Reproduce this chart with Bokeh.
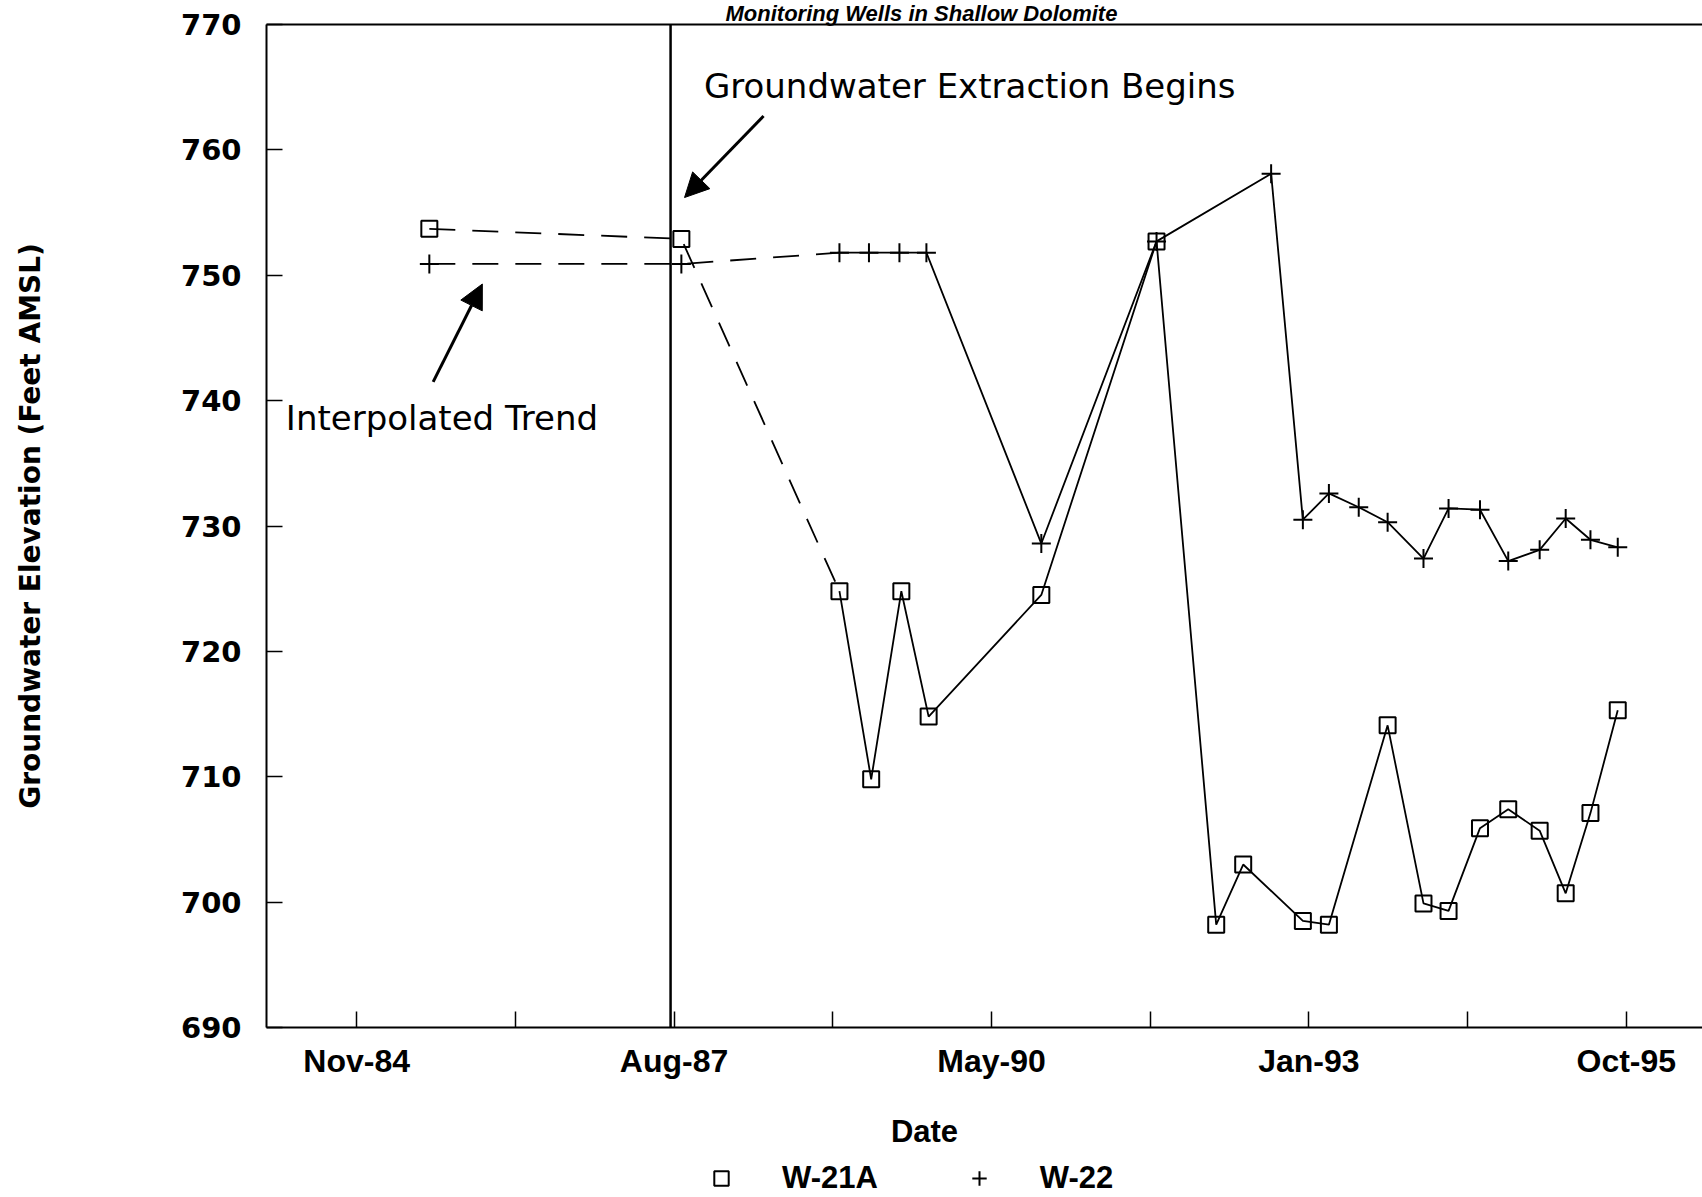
import pandas as pd
from bokeh.plotting import figure
from bokeh.layouts import column
from bokeh.models import (ColumnDataSource, Range1d, FixedTicker, Span, Label, Arrow,
                          NormalHead, Legend, LegendItem, LinearAxis, Title)
from bokeh.embed import file_html
from bokeh.resources import INLINE

# Well W-21A: sampling dates and groundwater elevations (feet AMSL)
w21a_dates = ["1985-06-27", "1987-08-30", "1989-01-09", "1989-04-19", "1989-07-23",
              "1989-10-17", "1990-10-07", "1991-10-05", "1992-04-10", "1992-07-04",
              "1993-01-08", "1993-03-31", "1993-10-02", "1994-01-23", "1994-04-12",
              "1994-07-20", "1994-10-17", "1995-01-24", "1995-04-16", "1995-07-03",
              "1995-09-27"]
w21a_elev = [753.7, 752.9, 724.8, 709.8, 724.8, 714.8, 724.5, 752.7, 698.2, 703.0,
             698.5, 698.2, 714.1, 699.9, 699.3, 705.9, 707.4, 705.7, 700.7, 707.1,
             715.3]

# Well W-22: sampling dates and groundwater elevations (feet AMSL)
w22_dates = ["1985-06-27", "1987-08-30", "1989-01-09", "1989-04-12", "1989-07-17",
             "1989-10-10", "1990-10-07", "1991-10-05", "1992-09-30", "1993-01-08",
             "1993-03-31", "1993-07-03", "1993-10-02", "1994-01-23", "1994-04-12",
             "1994-07-20", "1994-10-17", "1995-01-24", "1995-04-16", "1995-07-03",
             "1995-09-27"]
w22_elev = [750.9, 750.9, 751.8, 751.8, 751.8, 751.8, 728.6, 752.7, 758.1, 730.5,
            732.6, 731.5, 730.3, 727.4, 731.4, 731.3, 727.2, 728.1, 730.6, 728.9,
            728.3]

well_names = ["W-21A", "W-22"]

# the first readings of each well are only joined by an interpolated trend
n_interp = 3

extraction_start = "1987-07-27"

# date axis: ticks every 500 days, every second one labelled
tick_origin = pd.Timestamp("1984-11-10")
tick_step_days = 500
tick_labels = ["Nov-84", "Aug-87", "May-90", "Jan-93", "Oct-95"]
y_ticks = [690, 700, 710, 720, 730, 740, 750, 760, 770]


def ms(ts):
    return int(pd.Timestamp(ts).value // 10**6)


def day_offset(days):
    return ms(tick_origin + pd.Timedelta(days=days))


major_ticks = [day_offset(2 * k * tick_step_days) for k in range(len(tick_labels))]
minor_ticks = [day_offset((2 * k + 1) * tick_step_days) for k in range(len(tick_labels) - 1)]

W, H_MAIN, H_KEY = 1702, 1090, 107

p = figure(width=W, height=H_MAIN, x_axis_type="datetime",
           x_range=Range1d(day_offset(-284), day_offset(4240)),
           y_range=Range1d(690, 770),
           output_backend="svg", toolbar_location=None,
           min_border_left=266, min_border_right=0,
           min_border_top=24, min_border_bottom=63)
p.grid.visible = False
p.outline_line_color = None
p.background_fill_color = "white"
p.border_fill_color = "white"

# x axis
xa = p.xaxis[0]
xa.ticker = FixedTicker(ticks=major_ticks, minor_ticks=minor_ticks)
xa.major_label_overrides = {t: lab for t, lab in zip(major_ticks, tick_labels)}
xa.axis_line_width = 2
xa.major_tick_in = 16
xa.major_tick_out = 0
xa.minor_tick_in = 16
xa.minor_tick_out = 0
xa.major_tick_line_width = 1.5
xa.minor_tick_line_width = 1.5
xa.major_label_standoff = 15
xa.major_label_text_font = "Liberation Sans"
xa.major_label_text_font_style = "bold"
xa.major_label_text_font_size = "32px"
xa.major_label_text_color = "black"

# y axis
ya = p.yaxis[0]
ya.ticker = FixedTicker(ticks=y_ticks)
ya.axis_line_width = 2
ya.major_tick_in = 16
ya.major_tick_out = 0
ya.minor_tick_in = 0
ya.minor_tick_out = 0
ya.major_tick_line_width = 1.5
ya.major_label_standoff = 25
ya.major_label_text_font = "DejaVu Sans"
ya.major_label_text_font_style = "bold"
ya.major_label_text_font_size = "29px"
ya.major_label_text_color = "black"
ya.axis_label = "Groundwater Elevation (Feet AMSL)"
ya.axis_label_text_font = "DejaVu Sans"
ya.axis_label_text_font_style = "bold"
ya.axis_label_text_font_size = "28px"
ya.axis_label_text_color = "black"
ya.axis_label_standoff = 131

# plain rule along the top of the plot area
top = LinearAxis(ticker=FixedTicker(ticks=[]), axis_line_width=2,
                 major_tick_in=0, major_tick_out=0, minor_tick_in=0, minor_tick_out=0,
                 major_label_standoff=0, major_label_text_font_size="0px")
p.add_layout(top, "above")

# chart title, squeezed into the strip above the plot area
p.add_layout(Title(text="Monitoring Wells in Shallow Dolomite", align="left", offset=459,
                   standoff=-3, vertical_align="bottom",
                   text_font="Liberation Sans", text_font_style="bold italic",
                   text_font_size="22px", text_color="black"), "above")

# data sources
d21 = pd.to_datetime(w21a_dates)
d22 = pd.to_datetime(w22_dates)
s21_trend = ColumnDataSource(dict(date=d21[:n_interp], elev=w21a_elev[:n_interp]))
s21_obs = ColumnDataSource(dict(date=d21[n_interp - 1:], elev=w21a_elev[n_interp - 1:]))
s21_all = ColumnDataSource(dict(date=d21, elev=w21a_elev))
s22_trend = ColumnDataSource(dict(date=d22[:n_interp], elev=w22_elev[:n_interp]))
s22_obs = ColumnDataSource(dict(date=d22[n_interp - 1:], elev=w22_elev[n_interp - 1:]))
s22_all = ColumnDataSource(dict(date=d22, elev=w22_elev))

dash = "26 17"
for trend, obs in ((s21_trend, s21_obs), (s22_trend, s22_obs)):
    p.line("date", "elev", source=trend, line_color="black", line_width=1.8, line_dash=dash)
    p.line("date", "elev", source=obs, line_color="black", line_width=1.8)

marker_styles = [dict(marker="square", size=16, fill_color=None, line_color="black", line_width=2),
                 dict(marker="cross", size=19, line_color="black", line_width=2)]
well_sources = [s21_all, s22_all]
for src, style in zip(well_sources, marker_styles):
    p.scatter("date", "elev", source=src, **style)

# start of groundwater extraction
p.add_layout(Span(location=ms(extraction_start), dimension="height",
                  line_color="black", line_width=2.5))

head = dict(size=24, fill_color="black", line_color="black")
p.add_layout(Arrow(end=NormalHead(**head), line_width=3, line_color="black",
                   x_start=ms("1988-05-15"), y_start=762.7,
                   x_end=ms("1987-09-09"), y_end=756.2))
p.add_layout(Arrow(end=NormalHead(**head), line_width=3, line_color="black",
                   x_start=ms("1985-07-09"), y_start=741.5,
                   x_end=ms("1985-12-11"), y_end=749.3))

note_style = dict(text_font="DejaVu Sans", text_font_size="34px", text_color="black",
                  text_baseline="alphabetic", text_align="left")
p.add_layout(Label(x=ms("1987-11-09"), y=765.1, text="Groundwater Extraction Begins",
                   **note_style))
p.add_layout(Label(x=ms("1984-04-01"), y=738.6, text="Interpolated Trend", **note_style))

# strip under the chart (its frame lines up with the chart's): axis title and well key
key = figure(width=W, height=H_KEY, x_range=Range1d(0, 1), y_range=Range1d(0, 1),
             output_backend="svg", toolbar_location=None,
             x_axis_location=None, y_axis_location=None, min_border=0)
key.grid.visible = False
key.outline_line_color = None
key.background_fill_color = "white"
key.border_fill_color = "white"

key.add_layout(Label(x=658, y=66, x_units="screen", y_units="screen", text="Date",
                     text_align="center", text_baseline="alphabetic",
                     text_font="Liberation Sans", text_font_style="bold",
                     text_font_size="31px", text_color="black"))

# key renderers share the wells' sources and marker styles; their points fall
# outside this strip's ranges, so only the legend swatches show
key_renderers = [key.scatter("date", "elev", source=src, **style)
                 for src, style in zip(well_sources, marker_styles)]
legend = Legend(items=[LegendItem(label=name, renderers=[r])
                       for name, r in zip(well_names, key_renderers)],
                orientation="horizontal", location=(437, 1),
                border_line_color=None, background_fill_alpha=0,
                padding=0, margin=0, spacing=83, label_standoff=43,
                glyph_width=36, glyph_height=36,
                label_text_font="Liberation Sans", label_text_font_style="bold",
                label_text_font_size="31px", label_text_color="black")
key.add_layout(legend)

open("out.html", "w").write(file_html(column(p, key, spacing=0), INLINE))
